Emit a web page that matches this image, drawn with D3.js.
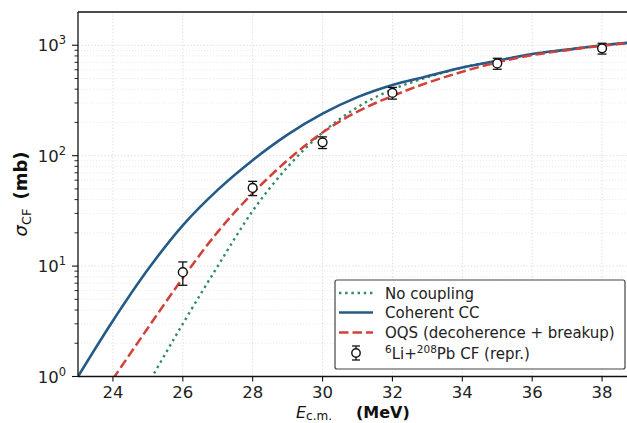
<!DOCTYPE html>
<html><head><meta charset="utf-8">
<script src="https://cdn.jsdelivr.net/npm/d3@7"></script>
<style>body{margin:0;background:#fff;}svg{display:block;font-family:"DejaVu Sans",sans-serif;}</style>
</head><body><svg id="c" width="627" height="423"></svg>
<script>
// ---- data ----
const energies   = [23, 24, 25, 26, 27, 28, 29, 30, 31, 32, 33, 34, 35, 36, 37, 38, 39];
const coherentCC = [1.0, 3.2, 9.3, 23.4, 49, 91, 155, 240, 339, 437, 525, 630, 725, 832, 912, 1000, 1070];
const oqsE       = [24, 25, 26, 27, 28, 29, 30, 31, 32, 33, 34, 35, 36, 37, 38, 39];
const oqs        = [0.95, 2.75, 7.8, 20.4, 45.7, 91, 162, 251, 347, 457, 575, 700, 813, 902, 989, 1060];
const noCoupE    = [25, 26, 27, 28, 29, 30, 31, 32, 33, 34, 35, 36, 37, 38, 39];
const noCoupling = [0.85, 3.0, 10.0, 31.6, 79, 162, 275, 398, 513, 627, 725, 832, 912, 1000, 1070];
const expE       = [26, 28, 30, 32, 35, 38];
const expSigma   = [8.8, 51, 132, 370, 684, 937];
const expErr     = [2.1, 7.5, 16, 45, 78, 105];
const xTicks     = [24, 26, 28, 30, 32, 34, 36, 38];
const yMajor     = [1, 10, 100, 1000];
const yExp       = ["0", "1", "2", "3"];
const legendLabels = ["No coupling", "Coherent CC", "OQS (decoherence + breakup)"];

const colBlue = "#245a87", colRed = "#d0413a", colGreen = "#2f8c5e";

const L = 78, R = 637, T = 12, B = 376.5;
const svg = d3.select("#c");
const x = d3.scaleLinear().domain([23, 39]).range([L, R]);
const y = d3.scaleLog().domain([1, 2000]).range([B, T]);

svg.append("defs").append("clipPath").attr("id", "clip")
  .append("rect").attr("x", L).attr("y", T).attr("width", R - L).attr("height", B - T);

// grid
const minorVals = [];
for (let d = 1; d <= 1000; d *= 10) for (let k = 2; k <= 9; k++) if (d * k < 2000) minorVals.push(d * k);
const grid = svg.append("g");
grid.selectAll(".gmin").data(minorVals).join("line")
  .attr("x1", L).attr("x2", R).attr("y1", d => y(d)).attr("y2", d => y(d))
  .attr("stroke", "#e6e6e6").attr("stroke-width", 0.8).attr("stroke-dasharray", "1.2,1.8");
grid.selectAll(".gmaj").data(yMajor).join("line")
  .attr("x1", L).attr("x2", R).attr("y1", d => y(d)).attr("y2", d => y(d))
  .attr("stroke", "#dcdcdc").attr("stroke-width", 0.9).attr("stroke-dasharray", "1.5,1.8");
grid.selectAll(".gx").data(xTicks).join("line")
  .attr("x1", d => x(d)).attr("x2", d => x(d)).attr("y1", T).attr("y2", B)
  .attr("stroke", "#dcdcdc").attr("stroke-width", 0.9).attr("stroke-dasharray", "1.5,1.8");

// curves
const line = (xs) => d3.line().x((d, i) => x(xs[i])).y(d => y(d)).curve(d3.curveMonotoneX);
const plot = svg.append("g").attr("clip-path", "url(#clip)");
plot.append("path").datum(noCoupling).attr("d", line(noCoupE)).attr("fill", "none")
  .attr("stroke", colGreen).attr("stroke-width", 2.4).attr("stroke-dasharray", "2.4,3.8");
plot.append("path").datum(coherentCC).attr("d", line(energies)).attr("fill", "none")
  .attr("stroke", colBlue).attr("stroke-width", 2.6);
plot.append("path").datum(oqs).attr("d", line(oqsE)).attr("fill", "none")
  .attr("stroke", colRed).attr("stroke-width", 2.5).attr("stroke-dasharray", "9.5,4");

// data points
const pts = svg.append("g");
expE.forEach((e, i) => {
  const cx = x(e), lo = y(expSigma[i] - expErr[i]), hi = y(expSigma[i] + expErr[i]);
  pts.append("line").attr("x1", cx).attr("x2", cx).attr("y1", lo).attr("y2", hi).attr("stroke", "#111").attr("stroke-width", 1.3);
  [lo, hi].forEach(v => pts.append("line").attr("x1", cx - 4.5).attr("x2", cx + 4.5).attr("y1", v).attr("y2", v).attr("stroke", "#111").attr("stroke-width", 1.3));
  pts.append("circle").attr("cx", cx).attr("cy", y(expSigma[i])).attr("r", 4.4).attr("fill", "#fff").attr("stroke", "#111").attr("stroke-width", 1.4);
});

// axes
const ax = svg.append("g");
ax.append("line").attr("x1", L).attr("x2", R).attr("y1", T).attr("y2", T).attr("stroke", "#111").attr("stroke-width", 1.3);
ax.append("line").attr("x1", L).attr("x2", R).attr("y1", B).attr("y2", B).attr("stroke", "#111").attr("stroke-width", 1.3);
ax.append("line").attr("x1", L).attr("x2", L).attr("y1", T).attr("y2", B).attr("stroke", "#111").attr("stroke-width", 1.3);

xTicks.forEach(t => {
  ax.append("line").attr("x1", x(t)).attr("x2", x(t)).attr("y1", B).attr("y2", B + 5).attr("stroke", "#111").attr("stroke-width", 1.1);
  ax.append("text").attr("x", x(t)).attr("y", 398).attr("text-anchor", "middle")
    .attr("font-size", 16.5).attr("fill", "#222").text(t);
});
minorVals.forEach(v => {
  ax.append("line").attr("x1", L - 3.5).attr("x2", L).attr("y1", y(v)).attr("y2", y(v)).attr("stroke", "#111").attr("stroke-width", 0.9);
});
yMajor.forEach((v, i) => {
  ax.append("line").attr("x1", L - 6).attr("x2", L).attr("y1", y(v)).attr("y2", y(v)).attr("stroke", "#111").attr("stroke-width", 1.1);
  const tx = ax.append("text").attr("x", 66).attr("y", y(v) + 6).attr("text-anchor", "end")
    .attr("font-size", 16.5).attr("fill", "#222");
  tx.append("tspan").text("10");
  tx.append("tspan").attr("dy", -7).attr("font-size", 11.5).text(yExp[i]);
});

// axis labels
const xl = svg.append("text").attr("x", 296).attr("y", 417.5).attr("text-anchor", "start")
  .attr("font-size", 16).attr("fill", "#111");
xl.append("tspan").attr("font-style", "italic").text("E");
xl.append("tspan").attr("dy", 2).attr("font-size", 12).text("c.m.");
xl.append("tspan").attr("x", 356).attr("dy", -2).attr("font-weight", "bold").text("(MeV)");

const yl = svg.append("text").attr("transform", "translate(27,194) rotate(-90)").attr("text-anchor", "middle")
  .attr("font-size", 18).attr("fill", "#111");
yl.append("tspan").attr("font-style", "italic").text("\u03c3");
yl.append("tspan").attr("dy", 4).attr("font-size", 13).text("CF");
yl.append("tspan").attr("dy", -4).attr("font-weight", "bold").text("\u2002(mb)");

// legend
const lg = svg.append("g");
lg.append("rect").attr("x", 335).attr("y", 280).attr("width", 290).attr("height", 89).attr("rx", 2)
  .attr("fill", "#fff").attr("fill-opacity", 0.92).attr("stroke", "#444").attr("stroke-width", 1.2);
const rows = [293, 312.5, 332.5, 353];
const styles = [
  {c: colGreen, w: 2.4, d: "2.4,3.8"},
  {c: colBlue, w: 2.6, d: null},
  {c: colRed, w: 2.5, d: "9.5,4"}
];
styles.forEach((s, i) => {
  const l = lg.append("line").attr("x1", 339).attr("x2", 373).attr("y1", rows[i]).attr("y2", rows[i])
    .attr("stroke", s.c).attr("stroke-width", s.w);
  if (s.d) l.attr("stroke-dasharray", s.d);
  lg.append("text").attr("x", 385).attr("y", rows[i] + 5.5).attr("font-size", 15).attr("fill", "#222").text(legendLabels[i]);
});
// data legend entry
const ly = rows[3];
lg.append("line").attr("x1", 356).attr("x2", 356).attr("y1", ly - 7).attr("y2", ly + 7).attr("stroke", "#111").attr("stroke-width", 1.3);
[ly - 7, ly + 7].forEach(v => lg.append("line").attr("x1", 352).attr("x2", 360).attr("y1", v).attr("y2", v).attr("stroke", "#111").attr("stroke-width", 1.3));
lg.append("circle").attr("cx", 356).attr("cy", ly).attr("r", 4.2).attr("fill", "#fff").attr("stroke", "#111").attr("stroke-width", 1.4);
const dt = lg.append("text").attr("x", 385).attr("y", ly + 5.5).attr("font-size", 15).attr("fill", "#222");
dt.append("tspan").attr("dy", -5.5).attr("font-size", 10.5).text("6");
dt.append("tspan").attr("dy", 5.5).text("Li+");
dt.append("tspan").attr("dy", -5.5).attr("font-size", 10.5).text("208");
dt.append("tspan").attr("dy", 5.5).text("Pb CF (repr.)");
</script></body></html>
